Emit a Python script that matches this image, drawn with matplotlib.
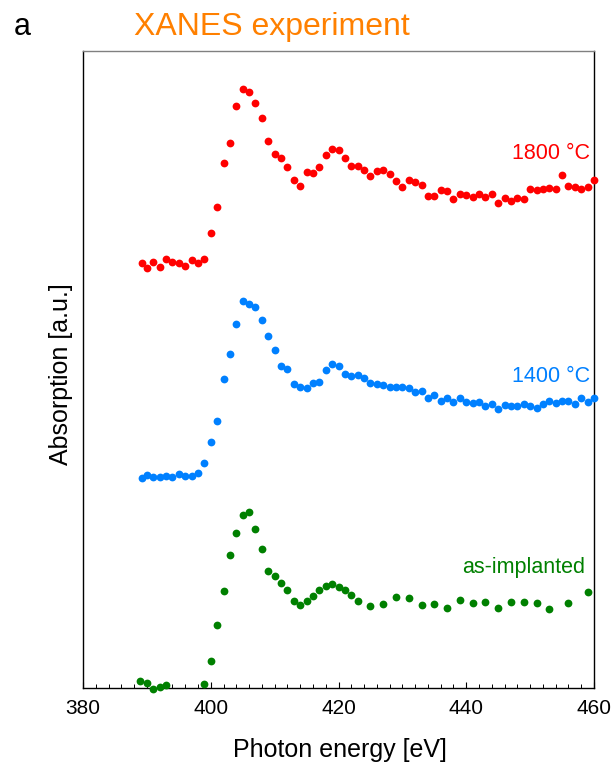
import numpy as np
import matplotlib
matplotlib.use("Agg")
import matplotlib.pyplot as plt
from matplotlib.ticker import MultipleLocator

plt.rcParams["font.family"] = ["Liberation Sans", "DejaVu Sans"]

# Photon energy grid [eV] for the annealed samples
energy_annealed = [389.3] + list(range(390, 461))

# Absorption [a.u.], already stacked with offsets as in the figure
abs_1800 = [4.25, 4.197, 4.26, 4.21, 4.287, 4.26, 4.25, 4.22, 4.277, 4.25, 4.287,
            4.55, 4.81, 5.25, 5.45, 5.82, 5.99, 5.957, 5.85, 5.697, 5.47,
            5.34, 5.30, 5.21, 5.08, 5.02, 5.16, 5.15, 5.21, 5.33, 5.39,
            5.38, 5.30, 5.22, 5.22, 5.18, 5.12, 5.17, 5.18, 5.137, 5.067,
            5.007, 5.08, 5.057, 5.03, 4.92, 4.92, 4.98, 4.97, 4.887, 4.94,
            4.93, 4.91, 4.94, 4.913, 4.94, 4.847, 4.90, 4.867, 4.897, 4.89,
            4.993, 4.983, 4.993, 5.003, 4.987, 5.127, 5.02, 5.007, 4.987, 5.007,
            5.077]

abs_1400 = [2.097, 2.13, 2.107, 2.107, 2.12, 2.107, 2.14, 2.12, 2.12, 2.15, 2.25,
            2.457, 2.667, 3.09, 3.34, 3.637, 3.87, 3.84, 3.81, 3.68, 3.52,
            3.38, 3.22, 3.187, 3.037, 3.01, 3.00, 3.05, 3.06, 3.18, 3.24,
            3.22, 3.14, 3.12, 3.13, 3.097, 3.047, 3.037, 3.027, 3.01, 3.01,
            3.01, 3.00, 2.957, 2.967, 2.897, 2.93, 2.867, 2.897, 2.857, 2.90,
            2.857, 2.853, 2.86, 2.817, 2.837, 2.793, 2.83, 2.817, 2.817, 2.84,
            2.823, 2.797, 2.837, 2.867, 2.853, 2.867, 2.87, 2.837, 2.897, 2.857,
            2.897]

# as-implanted sample was measured on a coarser grid
energy_implanted = ([389, 390, 391, 392, 393] + list(range(399, 424))
                    + list(range(425, 454, 2)) + [456, 459])
abs_implanted = [0.07, 0.047, -0.007, 0.013, 0.027,
                 0.04, 0.273, 0.627, 0.973, 1.333, 1.553, 1.73, 1.757, 1.587, 1.393,
                 1.173, 1.123, 1.05, 0.98, 0.87, 0.833, 0.87, 0.923, 0.983, 1.02,
                 1.04, 1.007, 0.98, 0.927, 0.873,
                 0.82, 0.837, 0.913, 0.90, 0.827, 0.843, 0.80, 0.883, 0.853, 0.863,
                 0.803, 0.86, 0.857, 0.853, 0.79,
                 0.847, 0.96]

labels = ["1800 °C", "1400 °C", "as-implanted"]
colors = ["#ff0000", "#0080ff", "#008000"]
label_x = [459.4, 459.4, 458.6]
label_y = [5.29, 3.06, 1.15]

fig = plt.figure(figsize=(6.13, 7.64), dpi=100)
ax = fig.add_axes([83 / 613, 1 - 688 / 764, 511 / 613, 637 / 764])

series = [(energy_annealed, abs_1800), (energy_annealed, abs_1400),
          (energy_implanted, abs_implanted)]
for (x, y), c in zip(series, colors):
    ax.plot(x, y, "o", color=c, markersize=5.6, markeredgewidth=0,
            clip_on=False, zorder=3)

for lab, c, lx, ly in zip(labels, colors, label_x, label_y):
    ax.text(lx, ly, lab, color=c, fontsize=15.5, ha="right", va="baseline")

ax.set_xlim(380, 460)
ax.set_ylim(0, 6.37)
ax.xaxis.set_major_locator(MultipleLocator(20))
ax.xaxis.set_minor_locator(MultipleLocator(2))
ax.tick_params(axis="x", which="major", direction="in", length=4.5, width=0.8,
               labelsize=15, pad=8)
ax.tick_params(axis="x", which="minor", direction="in", length=3, width=0.7)
ax.set_yticks([])

for side in ["left", "right", "bottom"]:
    ax.spines[side].set_linewidth(1.0)
    ax.spines[side].set_color("black")
ax.spines["top"].set_color("#808080")
ax.spines["top"].set_linewidth(1.0)

fig.text(340 / 613, 1 - 757 / 764, "Photon energy [eV]", fontsize=18,
         ha="center", va="baseline")
fig.text(61 / 613, 1 - 374 / 764, "Absorption [a.u.]", fontsize=18,
         rotation=90, ha="center", va="center")
fig.text(272 / 613, 1 - 35 / 764, "XANES experiment", fontsize=23,
         color="#ff8000", ha="center", va="baseline")
fig.text(14 / 613, 1 - 35 / 764, "a", fontsize=22, ha="left", va="baseline")

fig.savefig("out.png", dpi=100)
